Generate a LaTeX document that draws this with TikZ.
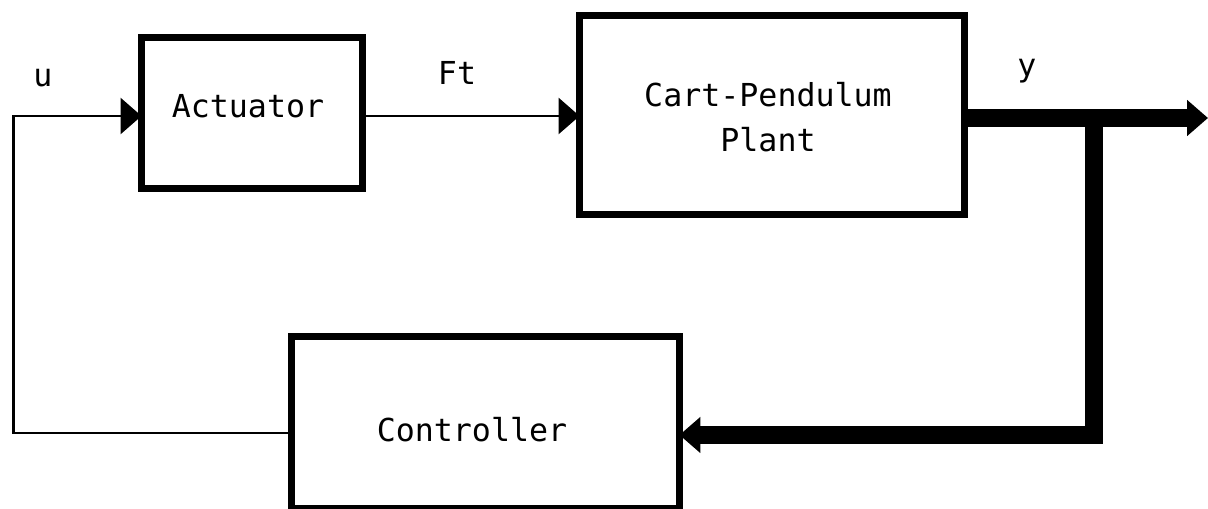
\documentclass[tikz,border=0pt]{standalone}
\usepackage{fontspec}
\setmonofont{DejaVu Sans Mono}
\usetikzlibrary{arrows.meta}
\begin{document}
\begin{tikzpicture}[x=0.02cm,y=-0.02cm,
  blockbox/.style={draw, line width=4pt, minimum width=#1, inner sep=0pt, outer sep=0pt},
  lbl/.style={font=\ttfamily\fontsize{18}{26}\selectfont, inner sep=0pt, anchor=base},
  sig/.style={line width=1.7pt, -{Triangle[length=0.42cm,width=0.72cm]}},
  sigplain/.style={line width=1.7pt},
  bus/.style={line width=9.7pt, line join=miter},
  busarrow/.style={line width=9.7pt, line join=miter, -{Triangle[length=0.42cm,width=0.7cm]}}]
\useasboundingbox (0,0) rectangle (1208,509);
% blocks
\node[blockbox=4.42cm, minimum height=3.02cm] (act) at (252,113) {};
\node[blockbox=7.7cm, minimum height=3.98cm] (plant) at (772,115) {};
\node[blockbox=7.76cm, minimum height=3.44cm] (ctrl) at (485.5,422.5) {};
% texts
\node[lbl] (acttxt) at (248,118) {Actuator};
\node[lbl] (planttxt1) at (768,107) {Cart-Pendulum};
\node[lbl] (planttxt2) at (768,152) {Plant};
\node[lbl] (ctrltxt) at (472,442) {Controller};
\node[lbl] (ulbl) at (43,87) {u};
\node[lbl] (ftlbl) at (457,85) {Ft};
\node[lbl] (ylbl) at (1027,77) {y};
% coordinates
\coordinate (c1) at (13.5,433);
\coordinate (c2) at (13.5,116);
\coordinate (yrow) at (0,118);
\coordinate (yout) at (1208,118);
\coordinate (br) at (1094,118);
\coordinate (brb) at (1094,435);
% connectors
\draw[sig] (c1 -| ctrl.west) -- (c1) -- (c2) -- (c2 -| act.west);
\draw[sig] (c2 -| act.east) -- (c2 -| plant.west);
\draw[busarrow] (yrow -| plant.east) -- (yout);
\draw[busarrow] (br) -- (brb) -- (brb -| ctrl.east);
\end{tikzpicture}
\end{document}
